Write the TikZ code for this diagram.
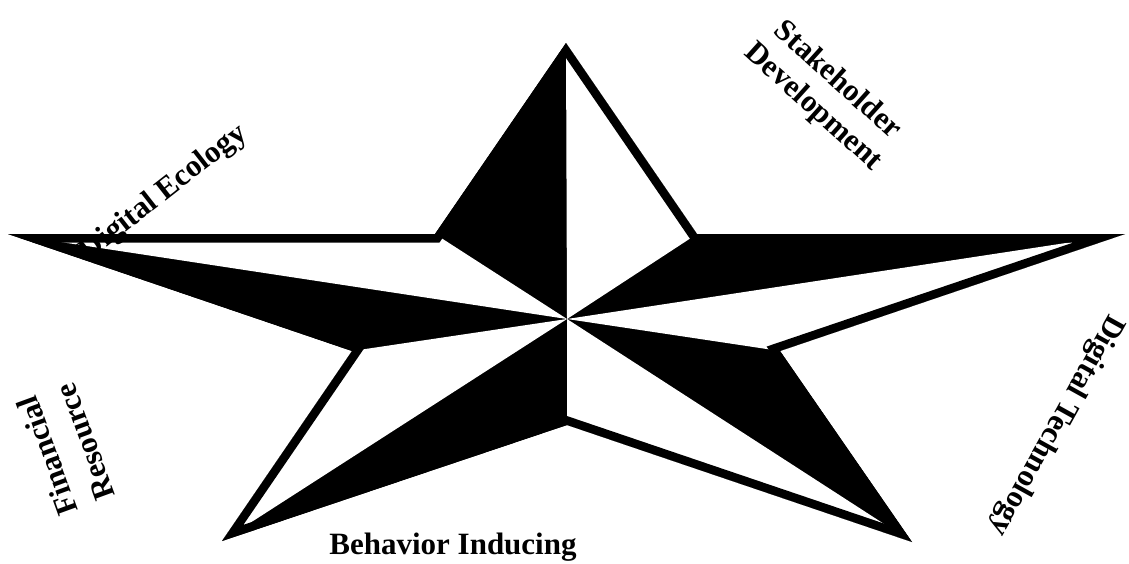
\documentclass[tikz,border=0pt]{standalone}
\usepackage{fontspec}
\setmainfont{Liberation Serif}
\usepackage{xcolor}
\usepackage{tikz}
\usetikzlibrary{calc}
\definecolor{etoilenoir}{RGB}{0,0,0}
\definecolor{etoileblanc}{RGB}{255,255,255}

\begin{document}
\begin{tikzpicture}[x=1pt, y=-1pt,
    every node/.style={font=\bfseries\fontsize{31}{36}\selectfont, text=etoilenoir, inner sep=0pt}]
    \useasboundingbox (0,0) rectangle (1129,563);
    % points of the star
    \coordinate (c) at (567,319);
    \coordinate (t) at (566,43);
    \coordinate (iur) at (697,234);
    \coordinate (r) at (1125,234);
    \coordinate (irr) at (780,351);
    \coordinate (br) at (912,542);
    \coordinate (ib) at (567,425);
    \coordinate (bl) at (222,541);
    \coordinate (ill) at (352,351);
    \coordinate (l) at (8,234);
    \coordinate (iul) at (435,234);

    % black body, white halves, inner rim
    \fill[etoilenoir] (t) -- (iur) -- (r) -- (irr) -- (br) -- (ib) -- (bl) -- (ill) -- (l) -- (iul) -- cycle;
    \fill[etoileblanc] (c) -- (t) -- (iur) -- cycle;
    \fill[etoileblanc] (c) -- (r) -- (irr) -- cycle;
    \fill[etoileblanc] (c) -- (br) -- (ib) -- cycle;
    \fill[etoileblanc] (c) -- (bl) -- (ill) -- cycle;
    \fill[etoileblanc] (c) -- (l) -- (iul) -- cycle;
    \begin{scope}
        \clip (t) -- (iur) -- (r) -- (irr) -- (br) -- (ib) -- (bl) -- (ill) -- (l) -- (iul) -- cycle;
        \draw[etoilenoir, line width=17pt, line join=miter] (t) -- (iur) -- (r) -- (irr) -- (br) -- (ib) -- (bl) -- (ill) -- (l) -- (iul) -- cycle;
    \end{scope}

    % labels
    \node[rotate=38] (ecology) at (164,193) {Digital Ecology};
    \node[rotate=-42, align=center] (stake) at (825,94) {Stakeholder\\Development};
    \node[rotate=-119] (techno) at (1056,425) {Digital Technology};
    \node[rotate=110, align=center, font=\bfseries\fontsize{31}{40}\selectfont] (finance) at (66,449) {Financial\\Resource};
    \node (behav) at (453,547) {Behavior Inducing};
\end{tikzpicture}
\end{document}
